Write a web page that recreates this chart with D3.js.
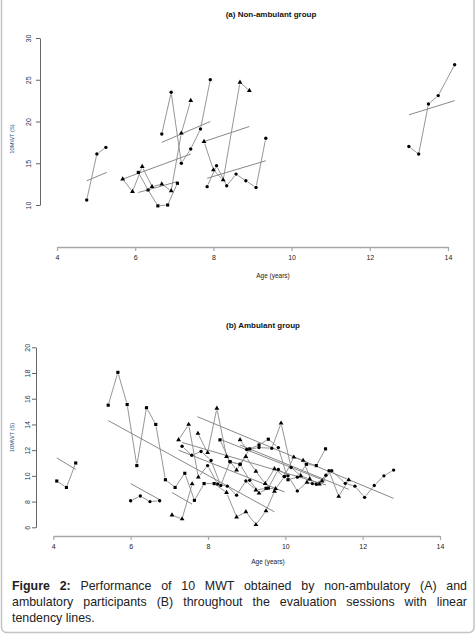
<!DOCTYPE html>
<html>
<head>
<meta charset="utf-8">
<script src="https://cdn.jsdelivr.net/npm/d3@7"></script>
<style>
  body { margin: 0; background: #fff; }
  #fig { position: relative; width: 476px; height: 635px; overflow: hidden; }
  #fig svg { position: absolute; left: 0; top: 0; }
  #caption {
    position: absolute; left: 12px; top: 578px; width: 455px;
    font-family: "Liberation Sans", Arial, sans-serif; font-size: 12.4px;
    line-height: 16px; color: #222;
  }
  #caption div { text-align: justify; text-align-last: justify; white-space: nowrap; }
  #caption div.last { text-align-last: left; }
</style>
</head>
<body>
<div id="fig">
  <div id="caption">
    <div><b>Figure 2:</b> Performance of 10 MWT obtained by non-ambulatory (A) and</div>
    <div>ambulatory participants (B) throughout the evaluation sessions with linear</div>
    <div class="last">tendency lines.</div>
  </div>
</div>
<script>
// Shared axis ticks
const ageTicks = [4, 6, 8, 10, 12, 14];
const nonAmbTicks = [10, 15, 20, 25, 30];
const ambTicks = [6, 8, 10, 12, 14, 16, 18, 20];

// (a) Non-ambulant group: one entry per participant
const nonAmbAges = [
  [4.76, 5.02, 5.25],
  [5.68, 5.93, 6.18, 6.43, 6.68, 6.92, 7.18, 7.42],
  [6.08, 6.33, 6.58, 6.83, 7.08],
  [6.68, 6.92, 7.18, 7.42, 7.67, 7.92],
  [7.76, 8.0, 8.25, 8.68, 8.92],
  [7.84, 8.08, 8.34, 8.58, 8.83, 9.09, 9.34],
  [13.0, 13.25, 13.5, 13.75, 14.17]
];
const nonAmbTimes = [
  [10.6, 16.1, 16.9],
  [13.1, 11.6, 14.6, 12.2, 12.5, 11.7, 18.6, 22.5],
  [13.9, 11.8, 9.9, 10.0, 12.6],
  [18.5, 23.5, 15.0, 16.7, 19.1, 25.0],
  [17.6, 14.2, 13.0, 24.7, 23.7],
  [12.2, 14.7, 12.3, 13.7, 12.9, 12.1, 18.0],
  [17.0, 16.1, 22.1, 23.1, 26.8]
];
const nonAmbMarks = ["ccc", "tttttttt", "sssss", "cccccc", "ttttt", "ccccccc", "ccccc"];
// tendency lines: [age start, value start, age end, value end]
const nonAmbTrends = [
  [4.76, 12.9, 5.27, 13.9],
  [5.68, 13.1, 7.42, 16.1],
  [6.08, 11.5, 7.08, 12.8],
  [6.68, 17.5, 7.92, 20.0],
  [7.76, 17.6, 8.92, 19.4],
  [7.84, 13.2, 9.34, 15.3],
  [13.0, 20.8, 14.17, 22.5]
];

// (b) Ambulant group
const ambAges = [
  [4.09, 4.34, 4.58],
  [5.42, 5.67, 5.91, 6.16, 6.41, 6.65, 6.9, 7.15, 7.40, 7.65, 7.9, 8.16, 8.48, 8.74, 8.98, 9.24, 9.5, 9.72],
  [6.0, 6.25, 6.5, 6.75],
  [7.07, 7.33, 7.59],
  [7.24, 7.5, 7.75, 7.99, 8.25, 8.5, 8.74, 8.98, 9.24, 9.5, 9.75, 9.98],
  [7.33, 7.58, 7.82, 8.08, 8.33, 8.57, 8.83, 9.08, 9.32, 9.56, 9.82, 10.07, 10.31, 10.56, 10.8, 11.05],
  [7.74, 7.99, 8.23, 8.48, 8.74, 8.98, 9.24, 9.48, 9.72, 9.97, 10.22, 10.46, 10.7, 10.95, 11.2, 11.55, 11.8, 12.05, 12.3, 12.55, 12.8],
  [8.31, 8.57, 8.83, 9.08, 9.32, 9.56, 9.82, 10.07, 10.31, 10.55, 10.8, 11.04],
  [8.83, 9.0, 9.32, 9.65, 9.89, 10.15, 10.4, 10.63, 10.88, 11.13, 11.38, 11.64]
];
const ambTimes = [
  [9.6, 9.1, 11.0],
  [15.5, 18.05, 15.55, 10.8, 15.3, 14.0, 9.7, 9.1, 10.2, 8.1, 9.4, 9.4, 8.7, 6.8, 7.2, 6.2, 7.27, 8.8],
  [8.07, 8.43, 8.0, 8.07],
  [6.95, 6.65, 9.37],
  [12.8, 14.0, 9.9, 10.8, 9.37, 9.2, 8.5, 9.6, 8.9, 9.03, 9.0, 9.95],
  [12.3, 11.6, 11.9, 11.2, 9.25, 11.1, 10.9, 9.65, 8.65, 9.05, 10.5, 10.0, 8.83, 9.5, 9.35, 10.05],
  [13.3, 11.8, 15.25, 11.5, 10.45, 11.5, 10.35, 9.4, 10.55, 9.95, 11.45, 11.2, 9.4, 9.6, 10.4, 9.42, 9.2, 8.33, 9.25, 10.0, 10.45],
  [12.8, 11.1, 10.9, 12.1, 12.4, 12.85, 12.2, 9.7, 9.9, 10.9, 10.8, 12.1],
  [12.8, 12.05, 12.2, 12.15, 14.1, 10.65, 10.0, 9.75, 9.35, 10.4, 8.4, 9.68]
];
const ambMarks = [
  "sss",
  "sssssssssssstttttt",
  "cccc",
  "ttt",
  "tttccccctstc",
  "cccccccctsccctcc",
  "tttttttttcttctccccccc",
  "sssssscscsss",
  "tccctctttctt"
];
const ambTrends = [
  [4.09, 11.4, 4.58, 10.5],
  [5.42, 14.3, 9.72, 7.2],
  [6.0, 9.4, 6.78, 8.1],
  [7.07, 8.7, 7.59, 7.8],
  [7.24, 12.0, 9.98, 8.75],
  [7.33, 12.6, 11.05, 9.3],
  [7.73, 14.6, 12.8, 8.25],
  [8.31, 12.85, 11.04, 9.6],
  [8.83, 12.4, 11.64, 8.95]
];

const W = 476, H = 635;
const font = '"Liberation Sans", Arial, sans-serif';

const svg = d3.select("#fig").insert("svg", "#caption")
    .attr("width", W)
    .attr("height", H);

// thin rounded frame around the figure
svg.append("rect")
    .attr("x", 1.5).attr("y", -10)
    .attr("width", W - 3.5).attr("height", 642.5)
    .attr("rx", 5)
    .attr("fill", "none")
    .attr("stroke", "#c4c4c4")
    .attr("stroke-width", 1.5);

const symbolType = { c: d3.symbolCircle, t: d3.symbolTriangle, s: d3.symbolSquare };
const symbolSize = { c: 9, t: 10, s: 10 };

// R style type="b": segments stop short of the points
function gapSegment(g, x1, y1, x2, y2, gap) {
    const dx = x2 - x1, dy = y2 - y1;
    const len = Math.hypot(dx, dy);
    if (len <= 2 * gap) return;
    const ux = dx / len, uy = dy / len;
    g.append("line")
        .attr("x1", x1 + ux * gap).attr("y1", y1 + uy * gap)
        .attr("x2", x2 - ux * gap).attr("y2", y2 - uy * gap);
}

function drawPanel(p) {
    const x = d3.scaleLinear().domain([4, 14]).range(p.xRange);
    const y = d3.scaleLinear().domain(p.yDomain).range(p.yRange);

    // title
    svg.append("text")
        .attr("x", p.titleX).attr("y", p.titleY)
        .attr("text-anchor", "middle")
        .style("font-family", font).style("font-size", "8px").style("font-weight", "bold")
        .attr("fill", "#111")
        .text(p.title);

    // x axis
    const gx = svg.append("g")
        .attr("transform", `translate(0,${p.xAxisY})`)
        .call(d3.axisBottom(x).tickValues(ageTicks).tickSize(4).tickSizeOuter(0).tickPadding(4.5));
    gx.select(".domain").attr("stroke", "#a8a8a8").attr("stroke-width", 1.6);
    gx.selectAll(".tick line").attr("stroke", "#a8a8a8").attr("stroke-width", 1.2);
    gx.selectAll("text").style("font-family", font).style("font-size", "7px").attr("fill", "#222");

    // y axis, labels turned vertical
    const gy = svg.append("g")
        .attr("transform", `translate(${p.yAxisX},0)`)
        .call(d3.axisLeft(y).tickValues(p.yTicks).tickSize(4).tickSizeOuter(0));
    gy.select(".domain").attr("stroke", "#666").attr("stroke-width", 1);
    gy.selectAll(".tick line").attr("stroke", "#666");
    gy.selectAll("text")
        .attr("x", 0).attr("y", p.yLabelOffset).attr("dy", 0)
        .attr("text-anchor", "middle")
        .attr("transform", "rotate(-90)")
        .style("font-family", font).style("font-size", "7px").attr("fill", "#2b3550");

    // axis titles
    svg.append("text")
        .attr("x", p.ageX).attr("y", p.ageY)
        .attr("text-anchor", "middle")
        .style("font-family", font).style("font-size", "6.5px")
        .attr("fill", "#222")
        .text("Age (years)");

    svg.append("text")
        .attr("transform", `translate(14,${p.mwtY}) rotate(-90)`)
        .attr("text-anchor", "middle")
        .style("font-family", font).style("font-size", "5.8px")
        .attr("fill", "#2d4a7a")
        .text("10MWT (S)");

    // tendency lines
    const gt = svg.append("g").attr("stroke", "#7a7a7a").attr("stroke-width", 0.9);
    p.trends.forEach(t => {
        gt.append("line")
            .attr("x1", x(t[0])).attr("y1", y(t[1]))
            .attr("x2", x(t[2])).attr("y2", y(t[3]));
    });

    // participant trajectories
    const gl = svg.append("g").attr("stroke", "#8a8a8a").attr("stroke-width", 0.9);
    const gm = svg.append("g").attr("fill", "#000");
    p.ages.forEach((ages, i) => {
        const vals = p.times[i];
        const marks = p.marks[i];
        for (let k = 1; k < ages.length; k++) {
            gapSegment(gl, x(ages[k - 1]), y(vals[k - 1]), x(ages[k]), y(vals[k]), 2.2);
        }
        ages.forEach((a, k) => {
            const m = marks[k];
            gm.append("path")
                .attr("transform", `translate(${x(a)},${y(vals[k])})`)
                .attr("d", d3.symbol().type(symbolType[m]).size(symbolSize[m])());
        });
    });
}

drawPanel({
    title: "(a) Non-ambulant group", titleX: 271, titleY: 16.5,
    ages: nonAmbAges, times: nonAmbTimes, marks: nonAmbMarks, trends: nonAmbTrends,
    xRange: [57, 448], yDomain: [10, 30], yRange: [205, 38], yTicks: nonAmbTicks,
    xAxisY: 247, yAxisX: 40, yLabelOffset: -9.5,
    ageX: 273, ageY: 278, mwtY: 139
});

drawPanel({
    title: "(b) Ambulant group", titleX: 263, titleY: 328,
    ages: ambAges, times: ambTimes, marks: ambMarks, trends: ambTrends,
    xRange: [53.3, 440], yDomain: [6, 20], yRange: [527.3, 347.3], yTicks: ambTicks,
    xAxisY: 536, yAxisX: 36, yLabelOffset: -6.5,
    ageX: 268, ageY: 564, mwtY: 437.5
});
</script>
</body>
</html>
